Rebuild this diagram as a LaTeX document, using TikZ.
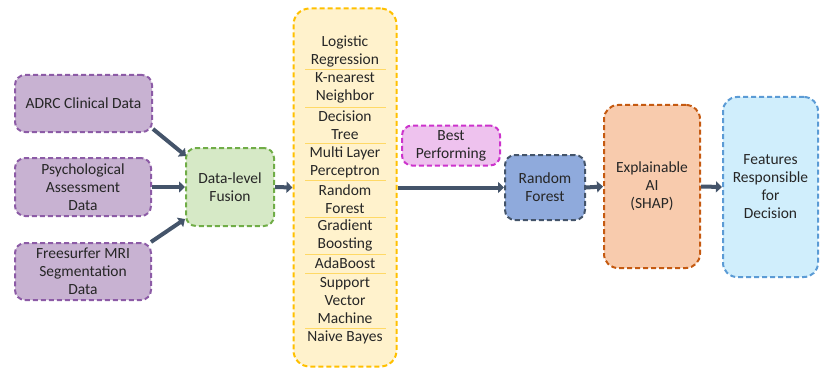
\documentclass[tikz,border=0pt]{standalone}
\usepackage{fontspec}
\setmainfont{Carlito}
\usetikzlibrary{arrows.meta}
\definecolor{purpfill}{HTML}{C8B2D2}
\definecolor{purpline}{HTML}{8C5BA6}
\definecolor{greenfill}{HTML}{D6E9C6}
\definecolor{greenline}{HTML}{70AD47}
\definecolor{yelfill}{HTML}{FFF2CC}
\definecolor{yelline}{HTML}{FFC000}
\definecolor{sepline}{HTML}{FFD966}
\definecolor{pinkfill}{HTML}{EEC2EE}
\definecolor{pinkline}{HTML}{CC33CC}
\definecolor{bluefill}{HTML}{8FAADC}
\definecolor{blueline}{HTML}{44546A}
\definecolor{orfill}{HTML}{F8CBAD}
\definecolor{orline}{HTML}{C55A11}
\definecolor{cyfill}{HTML}{D0EEFC}
\definecolor{cyline}{HTML}{5B9BD5}
\definecolor{arrowc}{HTML}{44546A}
\definecolor{txt}{HTML}{262626}
\tikzset{
  box/.style={draw, line width=2pt, dash pattern=on 5pt off 3pt, rounded corners=10pt,
    align=center, text=txt, font=\fontsize{15.5pt}{18pt}\selectfont, inner sep=2pt},
  purp/.style={box, fill=purpfill, draw=purpline},
  item/.style={align=center, text=txt, font=\fontsize{15.5pt}{18pt}\selectfont, inner sep=0pt},
  sep/.style={draw=sepline, line width=0.8pt},
  flow/.style={draw=arrowc, line width=4pt, -{Triangle[length=6pt,width=11pt]}}
}
\begin{document}
\begin{tikzpicture}[x=1pt,y=-1pt]
\useasboundingbox (0,0) rectangle (820,369);
% input boxes
\node[purp, minimum width=137pt, minimum height=57pt] (adrc) at (83.5,103.5) {ADRC Clinical Data};
\node[purp, minimum width=136pt, minimum height=58pt] (psych) at (83,187) {Psychological\\Assessment\\Data};
\node[purp, minimum width=136pt, minimum height=57pt] (free) at (83,271.5) {Freesurfer MRI\\Segmentation\\Data};
\node[box, fill=greenfill, draw=greenline, minimum width=88pt, minimum height=78pt] (fusion) at (230,187) {Data-level\\Fusion};
% models column
\node[box, fill=yelfill, draw=yelline, minimum width=103pt, minimum height=358pt, rounded corners=16pt] (models) at (345,187.5) {};
\coordinate (l1a) at (305,69);  \coordinate (l1b) at (386,69);
\coordinate (l2a) at (305,107); \coordinate (l2b) at (386,107);
\coordinate (l3a) at (305,143); \coordinate (l3b) at (386,143);
\coordinate (l4a) at (305,180); \coordinate (l4b) at (386,180);
\coordinate (l5a) at (305,217); \coordinate (l5b) at (386,217);
\coordinate (l6a) at (305,254); \coordinate (l6b) at (386,254);
\coordinate (l7a) at (305,273); \coordinate (l7b) at (386,273);
\coordinate (l8a) at (305,328); \coordinate (l8b) at (386,328);
\foreach \i in {1,...,8} {\draw[sep] (l\i a) -- (l\i b);}
\node[item] (m1) at (345,51) {Logistic\\Regression};
\node[item] (m2) at (345,88) {K-nearest\\Neighbor};
\node[item] (m3) at (345,125) {Decision\\Tree};
\node[item] (m4) at (345,162) {Multi Layer\\Perceptron};
\node[item] (m5) at (345,199) {Random\\Forest};
\node[item] (m6) at (345,235.5) {Gradient\\Boosting};
\node[item] (m7) at (345,263.5) {AdaBoost};
\node[item] (m8) at (345,300.5) {Support\\Vector\\Machine};
\node[item] (m9) at (345,337.5) {Naive Bayes};
% right side
\node[box, fill=pinkfill, draw=pinkline, minimum width=98pt, minimum height=40pt] (best) at (451,145.5) {Best\\Performing};
\node[box, fill=bluefill, draw=blueline, minimum width=80pt, minimum height=65pt] (rf) at (545,187.5) {Random\\Forest};
\node[box, fill=orfill, draw=orline, minimum width=96pt, minimum height=163pt, rounded corners=14pt] (xai) at (652,186.5) {Explainable\\AI\\(SHAP)};
\node[box, fill=cyfill, draw=cyline, minimum width=95pt, minimum height=180pt, rounded corners=14pt] (feat) at (770.5,187) {Features\\Responsible\\for\\Decision};
% arrows
\draw[flow] ([yshift=4pt]adrc.south east) -- ([xshift=1pt,yshift=-9pt]fusion.north west);
\draw[flow] (psych.east) -- (fusion.west);
\draw[flow] ([xshift=-1pt]free.north east) -- ([yshift=8pt]fusion.south west);
\draw[flow] (fusion.east) -- (models.west);
\draw[flow] (models.east) -- (rf.west);
\draw[flow] (rf.east) -- (xai.west);
\draw[flow] (xai.east) -- (feat.west);
\end{tikzpicture}
\end{document}
